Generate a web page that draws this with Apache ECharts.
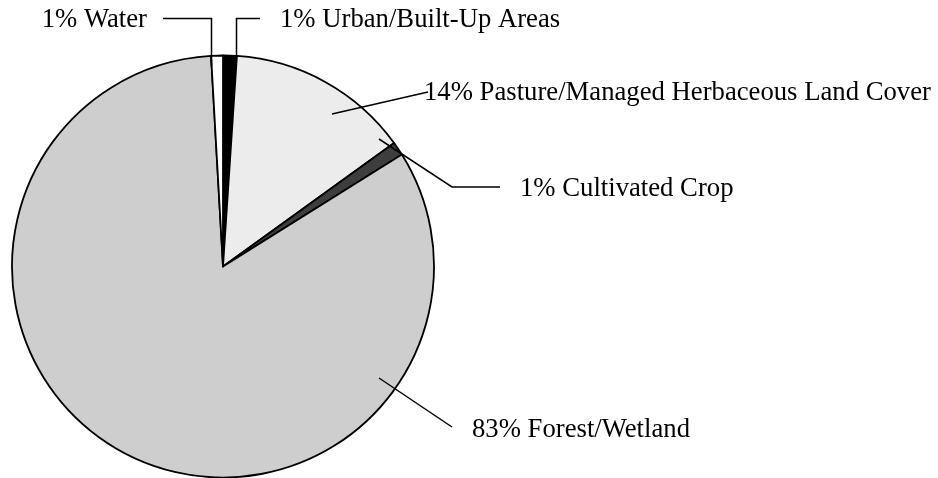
<!DOCTYPE html>
<html>
<head>
<meta charset="utf-8">
<title>Land cover</title>
<script src="https://cdn.jsdelivr.net/npm/echarts@6/dist/echarts.min.js"></script>
<style>
  html, body { margin: 0; padding: 0; background: #fff; }
  #main { width: 938px; height: 478px; }
</style>
</head>
<body>
<div id="main"></div>
<script>
// slice order clockwise from 12 o'clock
const categories = ['Urban/Built-Up Areas', 'Pasture/Managed Herbaceous Land Cover', 'Cultivated Crop', 'Forest/Wetland', 'Water']
const shares = [1.05, 14.0, 1.05, 83.0, 0.9]
const shareLabels = ['1%', '14%', '1%', '83%', '1%']
const fills = ['#000000', '#ececec', '#3e3e3e', '#cecece', '#ffffff']

// where each label text sits and how its leader line bends
const labelSpots = {
  'Urban/Built-Up Areas': { x: 280, y: 20, align: 'left', line: [[236.5, 56], [236.5, 18.5], [260, 18.5]] },
  'Pasture/Managed Herbaceous Land Cover': { x: 424, y: 93, align: 'left', line: [[332, 114], [428, 92], [428, 92]] },
  'Cultivated Crop': { x: 520, y: 189, align: 'left', line: [[379, 139], [452, 187], [500, 187]] },
  'Forest/Wetland': { x: 472, y: 430, align: 'left', line: [[379, 378], [452, 427], [452, 427]] },
  'Water': { x: 147, y: 20, align: 'right', line: [[211.5, 66], [211.5, 18.5], [163, 18.5]] }
}

const chart = echarts.init(document.getElementById('main'))

const data = categories.map((name, i) => ({
  name: name,
  value: shares[i],
  share: shareLabels[i],
  itemStyle: { color: fills[i] }
}))

// same slices again, see-through, only to carry labels above the fills
const labelData = categories.map((name, i) => ({
  name: name,
  value: shares[i],
  share: shareLabels[i]
}))

const pieBase = {
  type: 'pie',
  center: [223, 266.5],
  radius: [0, 211],
  startAngle: 90,
  clockwise: true,
  avoidLabelOverlap: false,
  emphasis: { disabled: true }
}

chart.setOption({
  backgroundColor: '#ffffff',
  animation: false,
  series: [
    Object.assign({}, pieBase, {
      z: 2,
      data: data,
      itemStyle: {
        borderColor: '#000',
        borderWidth: 1.8
      },
      label: { show: false },
      labelLine: { show: false }
    }),
    Object.assign({}, pieBase, {
      z: 5,
      silent: true,
      data: labelData,
      itemStyle: {
        color: 'rgba(0,0,0,0)',
        borderWidth: 0
      },
      label: {
        show: true,
        position: 'outside',
        fontFamily: 'Liberation Serif',
        fontSize: 26.7,
        color: '#000',
        formatter: function(p) {
          return p.data.share + ' ' + p.name
        }
      },
      labelLine: {
        show: true,
        lineStyle: { color: '#000', width: 1.5 }
      },
      labelLayout: function(params) {
        const spot = labelSpots[categories[params.dataIndex]]
        return {
          x: spot.x,
          y: spot.y,
          align: spot.align,
          verticalAlign: 'middle',
          labelLinePoints: spot.line.map(p => p.slice())
        }
      }
    })
  ]
})
</script>
</body>
</html>
